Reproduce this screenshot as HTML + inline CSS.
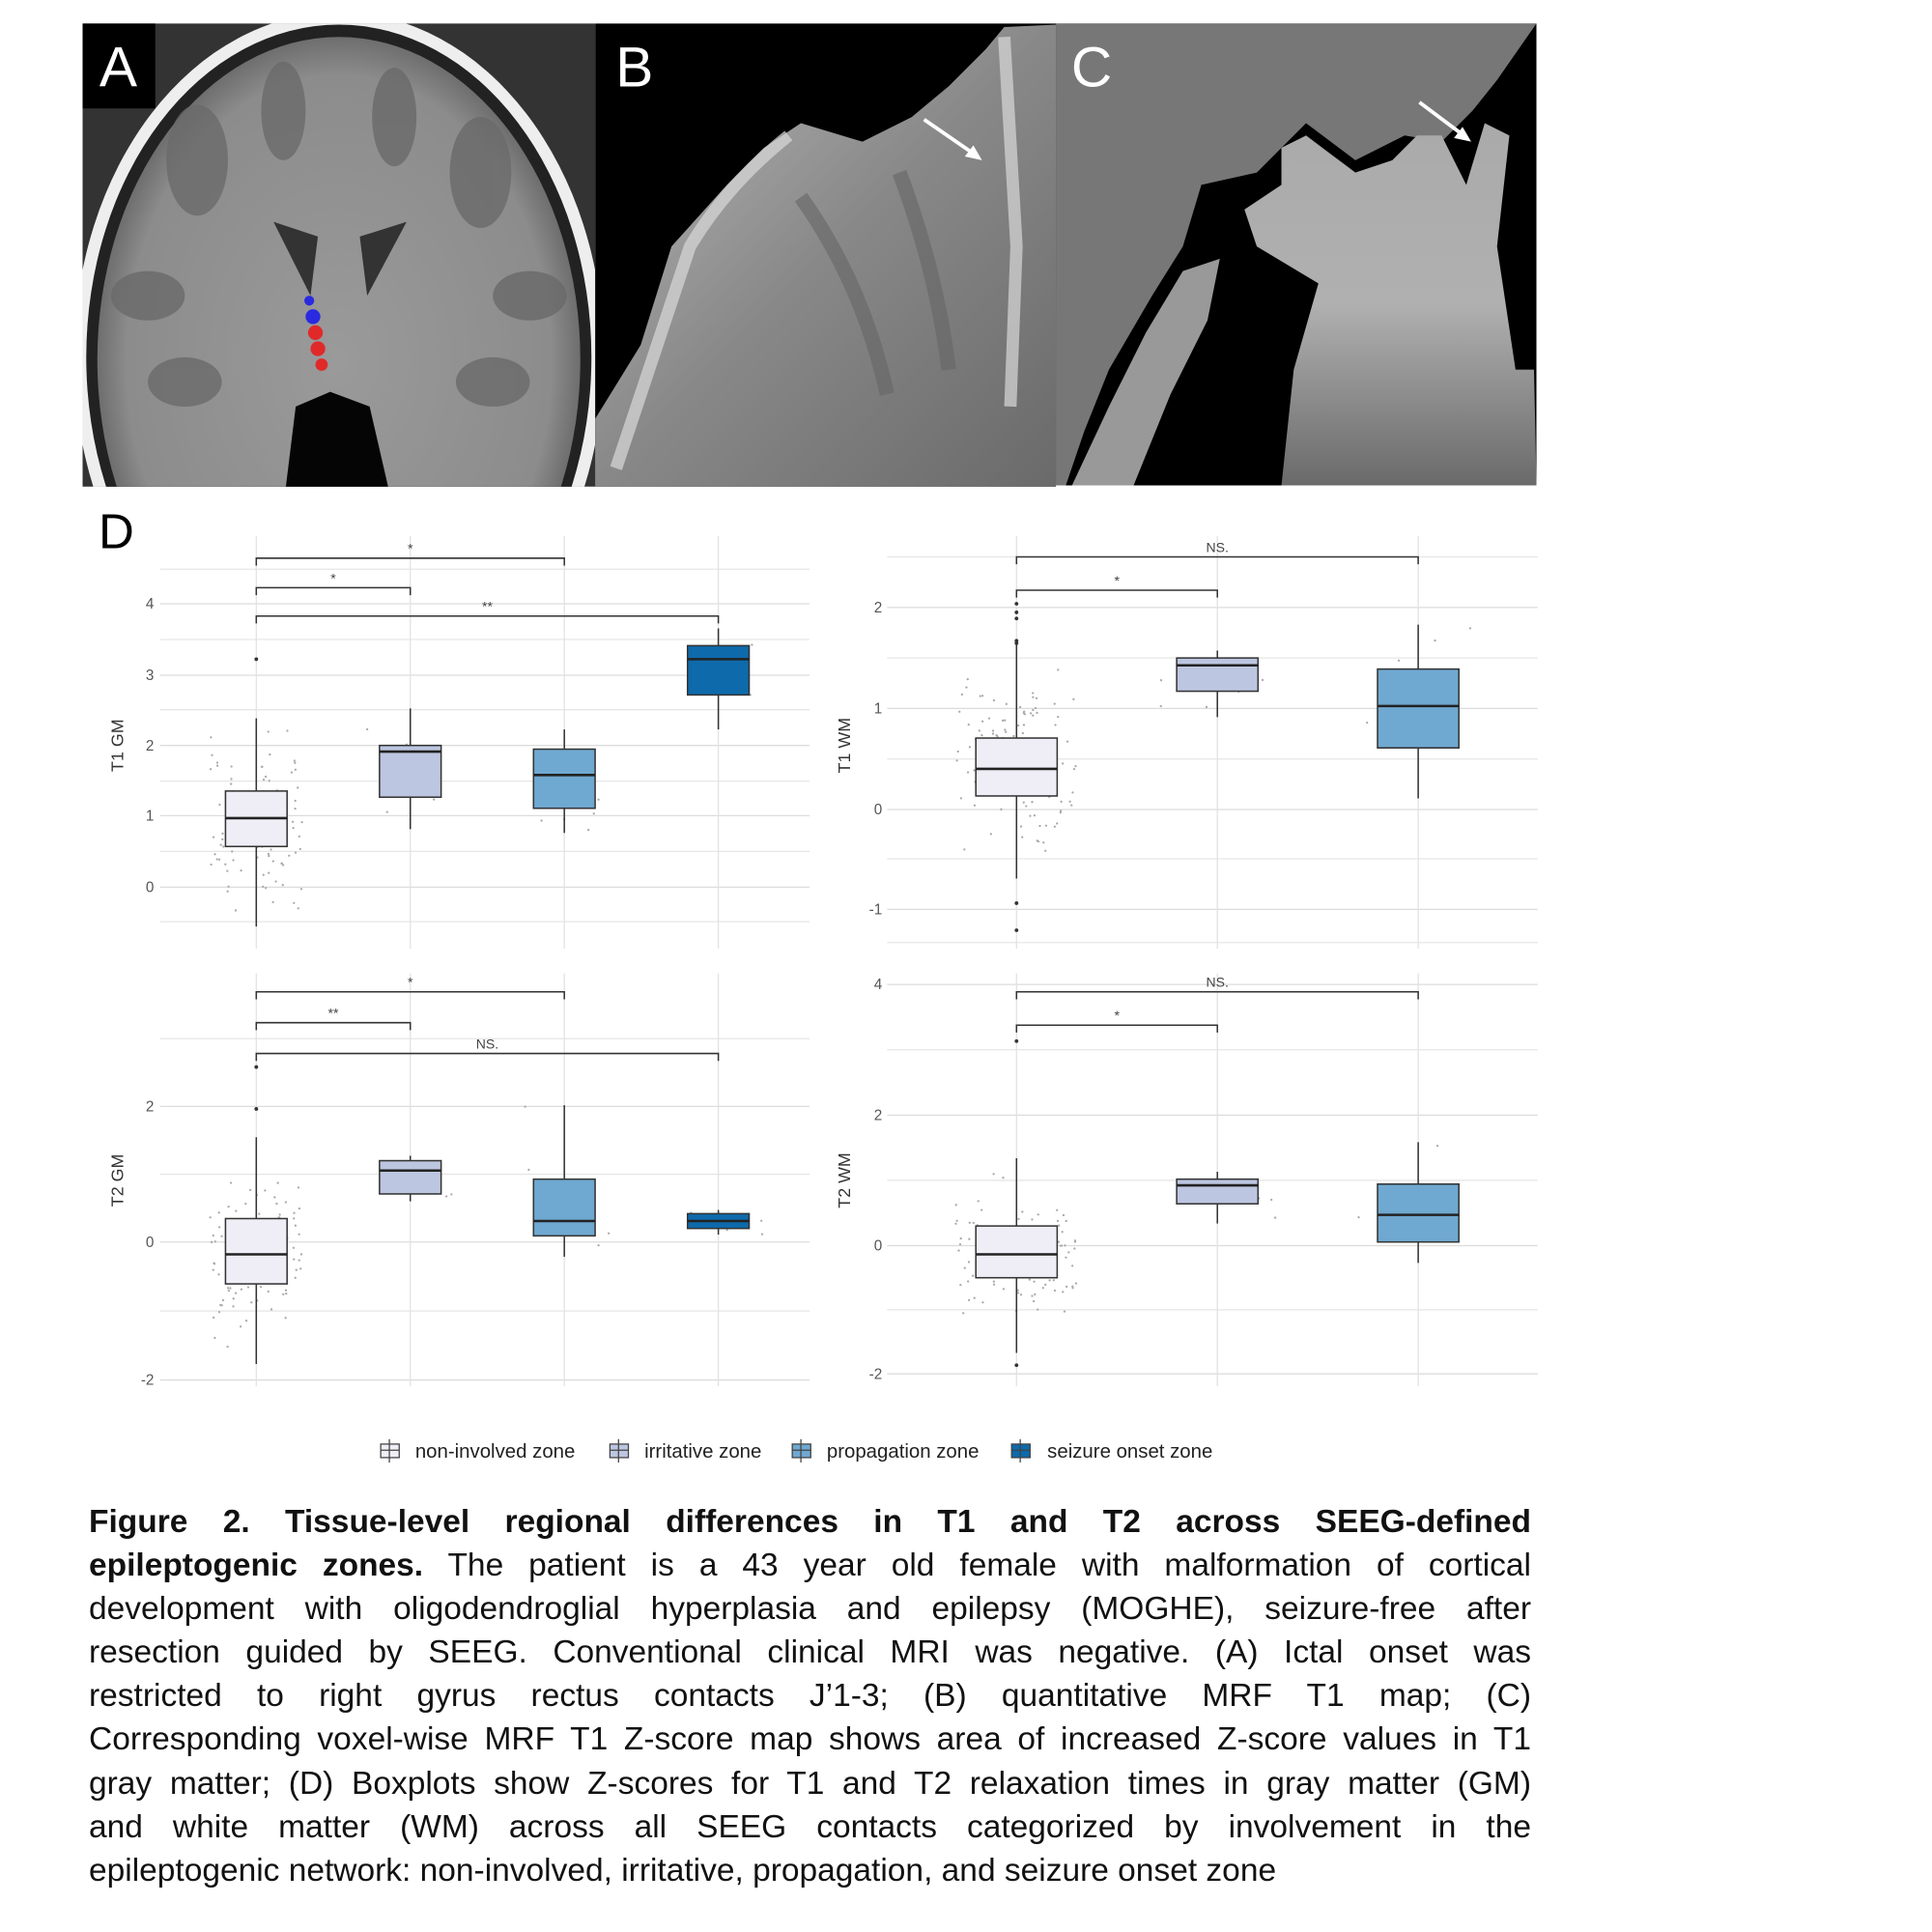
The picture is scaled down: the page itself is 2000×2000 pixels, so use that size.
<!DOCTYPE html>
<html><head><meta charset="utf-8"><style>
html,body{margin:0;padding:0;background:#fff;width:2000px;height:2000px;overflow:hidden}
svg{position:absolute;left:0;top:0}
#cap{position:absolute;left:92px;top:1553px;width:1493px;font-family:"Liberation Sans",sans-serif;font-size:33.5px;line-height:45.1px;text-align:justify;color:#111}
#cap .l{text-align-last:justify}
</style></head><body>
<svg width="2000" height="2000" viewBox="0 0 1568 1568" font-family="Liberation Sans, sans-serif">
<defs>
<radialGradient id="ga" cx="50%" cy="50%" r="55%"><stop offset="0" stop-color="#9a9a9a"/><stop offset="0.8" stop-color="#8c8c8c"/><stop offset="1" stop-color="#555"/></radialGradient>
<linearGradient id="gb" x1="0" y1="0" x2="1" y2="1"><stop offset="0" stop-color="#bbb"/><stop offset="0.5" stop-color="#888"/><stop offset="1" stop-color="#6a6a6a"/></linearGradient>
<linearGradient id="gc" x1="0" y1="0" x2="0" y2="1"><stop offset="0" stop-color="#aaa"/><stop offset="0.5" stop-color="#b0b0b0"/><stop offset="1" stop-color="#6a6a6a"/></linearGradient>
<clipPath id="ca"><rect x="67" y="19" width="416" height="376"/></clipPath>
<clipPath id="cb"><rect x="483" y="19" width="374" height="376"/></clipPath>
<clipPath id="cc"><rect x="857" y="19" width="390" height="375"/></clipPath>
</defs>
<!-- Panel A -->
<g clip-path="url(#ca)">
<rect x="67" y="19" width="416" height="376" fill="#333"/>
<ellipse cx="275" cy="290" rx="215" ry="280" fill="#eee"/>
<ellipse cx="275" cy="290" rx="205" ry="270" fill="#222"/>
<ellipse cx="275" cy="292" rx="196" ry="262" fill="url(#ga)"/>
<g fill="#6a6a6a" opacity="0.8">
<ellipse cx="160" cy="130" rx="25" ry="45"/><ellipse cx="230" cy="90" rx="18" ry="40"/><ellipse cx="320" cy="95" rx="18" ry="40"/><ellipse cx="390" cy="140" rx="25" ry="45"/>
<ellipse cx="120" cy="240" rx="30" ry="20"/><ellipse cx="430" cy="240" rx="30" ry="20"/><ellipse cx="150" cy="310" rx="30" ry="20"/><ellipse cx="400" cy="310" rx="30" ry="20"/>
</g>
<polygon points="222,180 258,192 252,240" fill="#333"/><polygon points="330,180 292,192 298,240" fill="#333"/>
<polygon points="232,395 240,330 268,318 300,330 315,395" fill="#050505"/>
<circle cx="251" cy="244" r="4" fill="#2a2ae0"/><circle cx="254" cy="257" r="6" fill="#2a2ae0"/>
<circle cx="256" cy="270" r="6" fill="#e02a2a"/><circle cx="258" cy="283" r="6" fill="#e02a2a"/><circle cx="261" cy="296" r="5" fill="#e02a2a"/>
<rect x="67" y="19" width="59" height="69" fill="#000"/>
<text x="96" y="70" font-size="46" fill="#fff" text-anchor="middle">A</text>
</g>
<!-- Panel B -->
<g clip-path="url(#cb)">
<rect x="483" y="19" width="374" height="376" fill="#000"/>
<polygon points="483,395 483,340 520,280 545,200 590,150 620,120 650,100 700,115 740,95 770,70 800,40 815,22 857,20 857,395" fill="url(#gb)"/>
<g fill="none" stroke="#d8d8d8" stroke-width="10" opacity="0.7">
<path d="M500,380 Q540,260 560,200 Q590,150 640,110"/><path d="M815,30 L825,200 L820,330"/>
</g>
<g fill="none" stroke="#666" stroke-width="12" opacity="0.6"><path d="M650,160 Q700,230 720,320"/><path d="M730,140 Q760,220 770,300"/></g>
<text x="515" y="70" font-size="46" fill="#fff" text-anchor="middle">B</text>
<line x1="750" y1="97" x2="792" y2="126" stroke="#fff" stroke-width="3"/><polygon points="797,130 783,127 790,118" fill="#fff"/>
</g>
<!-- Panel C -->
<g clip-path="url(#cc)">
<rect x="857" y="19" width="390" height="375" fill="#000"/>
<polygon points="857,19 1247,19 1215,65 1195,90 1170,115 1140,110 1100,130 1060,100 1020,140 975,150 960,200 935,240 900,300 880,350 865,394 857,394" fill="#777"/>
<polygon points="1040,120 1060,110 1080,125 1100,140 1130,130 1150,110 1170,110 1190,150 1205,100 1225,110 1215,200 1230,300 1245,300 1247,394 1040,394 1050,300 1070,230 1020,200 1010,170 1040,150" fill="url(#gc)"/>
<polygon points="870,394 900,330 930,270 960,220 990,210 980,260 950,320 920,394" fill="#999"/>
<text x="886" y="70" font-size="46" fill="#fff" text-anchor="middle">C</text>
<line x1="1152" y1="83" x2="1188" y2="110" stroke="#fff" stroke-width="3"/><polygon points="1194,115 1180,112 1187,103" fill="#fff"/>
</g>
<!-- D -->
<text x="80" y="445" font-size="40" fill="#000">D</text>
<g id="plots"></g>
<!-- legend -->
<g font-size="16" fill="#222">
<g stroke="#444" stroke-width="1"><rect x="309" y="1172" width="15" height="11" fill="#efedf5"/><line x1="316" y1="1168" x2="316" y2="1187"/><line x1="309" y1="1177" x2="324" y2="1177"/>
<rect x="495" y="1172" width="15" height="11" fill="#bcc6e0"/><line x1="502" y1="1168" x2="502" y2="1187"/><line x1="495" y1="1177" x2="510" y2="1177"/>
<rect x="643" y="1172" width="15" height="11" fill="#6fa8d0"/><line x1="650" y1="1168" x2="650" y2="1187"/><line x1="643" y1="1177" x2="658" y2="1177"/>
<rect x="821" y="1172" width="15" height="11" fill="#0e6aab"/><line x1="828" y1="1168" x2="828" y2="1187"/><line x1="821" y1="1177" x2="836" y2="1177"/></g>
<text x="337" y="1183">non-involved zone</text><text x="523" y="1183">irritative zone</text><text x="671" y="1183">propagation zone</text><text x="850" y="1183">seizure onset zone</text>
</g>
</svg>
<div id="cap"><div class="l"><b>Figure 2. Tissue-level regional differences in T1 and T2 across SEEG-defined</b></div><div class="l"><b>epileptogenic zones.</b> The patient is a 43 year old female with malformation of cortical</div><div class="l">development with oligodendroglial hyperplasia and epilepsy (MOGHE), seizure-free after</div><div class="l">resection guided by SEEG. Conventional clinical MRI was negative. (A) Ictal onset was</div><div class="l">restricted to right gyrus rectus contacts J’1-3; (B) quantitative MRF T1 map; (C)</div><div class="l">Corresponding voxel-wise MRF T1 Z-score map shows area of increased Z-score values in T1</div><div class="l">gray matter; (D) Boxplots show Z-scores for T1 and T2 relaxation times in gray matter (GM)</div><div class="l">and white matter (WM) across all SEEG contacts categorized by involvement in the</div><div>epileptogenic network: non-involved, irritative, propagation, and seizure onset zone</div></div>
<script>
var NS="http://www.w3.org/2000/svg",g=document.getElementById("plots");
function el(t,a,txt){var e=document.createElementNS(NS,t);for(var k in a)e.setAttribute(k,a[k]);if(txt)e.textContent=txt;g.appendChild(e);return e;}
var seed=7;function rnd(){seed=(seed*16807)%2147483647;return seed/2147483647;}
var C=["#efedf5","#bcc6e0","#6fa8d0","#0e6aab"];
function plot(P){
 for(var i=0;i<P.grid.length;i++){el("line",{x1:P.x0,x2:P.x1,y1:P.grid[i],y2:P.grid[i],stroke:"#e6e6e6","stroke-width":1});}
 P.ticks.forEach(function(t){el("line",{x1:P.x0,x2:P.x1,y1:t[1],y2:t[1],stroke:"#dcdcdc","stroke-width":1});el("text",{x:P.tx,y:t[1]+4,"font-size":12,fill:"#555","text-anchor":"end"},t[0]);});
 P.xs.forEach(function(x){el("line",{x1:x,x2:x,y1:P.y0,y2:P.y1,stroke:"#e2e2e2","stroke-width":1});});
 el("text",{x:0,y:0,"font-size":14,fill:"#333","text-anchor":"middle",transform:"translate("+P.lx+","+P.ly+") rotate(-90)"},P.lab);
 var b0=P.boxes[0];for(var k=0;k<110;k++){var u=(rnd()+rnd()+rnd())/3;el("circle",{cx:P.xs[0]+(rnd()-0.5)*P.w*3,cy:b0[3]+(b0[4]-b0[3])*u,r:0.9,fill:"#aaa"});}
 for(var j=1;j<P.boxes.length;j++){var b=P.boxes[j];for(var k=0;k<5;k++)el("circle",{cx:P.xs[j]+(rnd()-0.5)*P.w*3,cy:b[3]+(b[4]-b[3])*rnd(),r:0.9,fill:"#aaa"});}
 P.boxes.forEach(function(b,j){var x=P.xs[j];
  el("line",{x1:x,x2:x,y1:b[3],y2:b[4],stroke:"#333","stroke-width":1.2});
  el("rect",{x:x-P.w,y:b[0],width:2*P.w,height:b[1]-b[0],fill:C[j],stroke:"#333","stroke-width":1.2});
  el("line",{x1:x-P.w,x2:x+P.w,y1:b[2],y2:b[2],stroke:"#222","stroke-width":2});
 });
 (P.out||[]).forEach(function(o){el("circle",{cx:P.xs[0],cy:o,r:1.5,fill:"#333"});});
 P.br.forEach(function(r){var xa=P.xs[0],xb=P.xs[r[0]];
  el("path",{d:"M"+xa+","+(r[1]+6)+"V"+r[1]+"H"+xb+"V"+(r[1]+6),fill:"none",stroke:"#333","stroke-width":1.2});
  el("text",{x:(xa+xb)/2,y:r[1]-4,"font-size":11,fill:"#444","text-anchor":"middle"},r[2]);});
}
plot({x0:130,x1:657,y0:435,y1:770,xs:[208,333,458,583],w:25,tx:125,lx:100,ly:605,lab:"T1 GM",
 grid:[462,519,576,634,691,748],ticks:[["4",490],["3",548],["2",605],["1",662],["0",720]],
 boxes:[[642,687,664,583,752],[605,647,610,575,673],[608,656,629,592,676],[524,564,535,510,592]],out:[535],
 br:[[2,453,"*"],[1,477,"*"],[3,500,"**"]]});
plot({x0:720,x1:1248,y0:435,y1:770,xs:[825,988,1151],w:33,tx:716,lx:690,ly:605,lab:"T1 WM",
 grid:[452,534,616,697,765],ticks:[["2",493],["1",575],["0",657],["-1",738]],
 boxes:[[599,646,624,520,713],[534,561,540,528,582],[543,607,573,507,648]],out:[490,497,502,520,522,733,755],
 br:[[2,452,"NS."],[1,479,"*"]]});
plot({x0:130,x1:657,y0:790,y1:1125,xs:[208,333,458,583],w:25,tx:125,lx:100,ly:958,lab:"T2 GM",
 grid:[843,953,1064],ticks:[["2",898],["0",1008],["-2",1120]],
 boxes:[[989,1042,1018,923,1107],[942,969,950,938,975],[957,1003,991,897,1020],[985,997,991,982,1002]],out:[866,900],
 br:[[2,805,"*"],[1,830,"**"],[3,855,"NS."]]});
plot({x0:720,x1:1248,y0:790,y1:1125,xs:[825,988,1151],w:33,tx:716,lx:690,ly:958,lab:"T2 WM",
 grid:[852,958,1063],ticks:[["4",799],["2",905],["0",1011],["-2",1115]],
 boxes:[[995,1037,1018,940,1098],[957,977,962,951,993],[961,1008,986,927,1025]],out:[845,1108],
 br:[[2,805,"NS."],[1,832,"*"]]});
</script>
</body></html>
